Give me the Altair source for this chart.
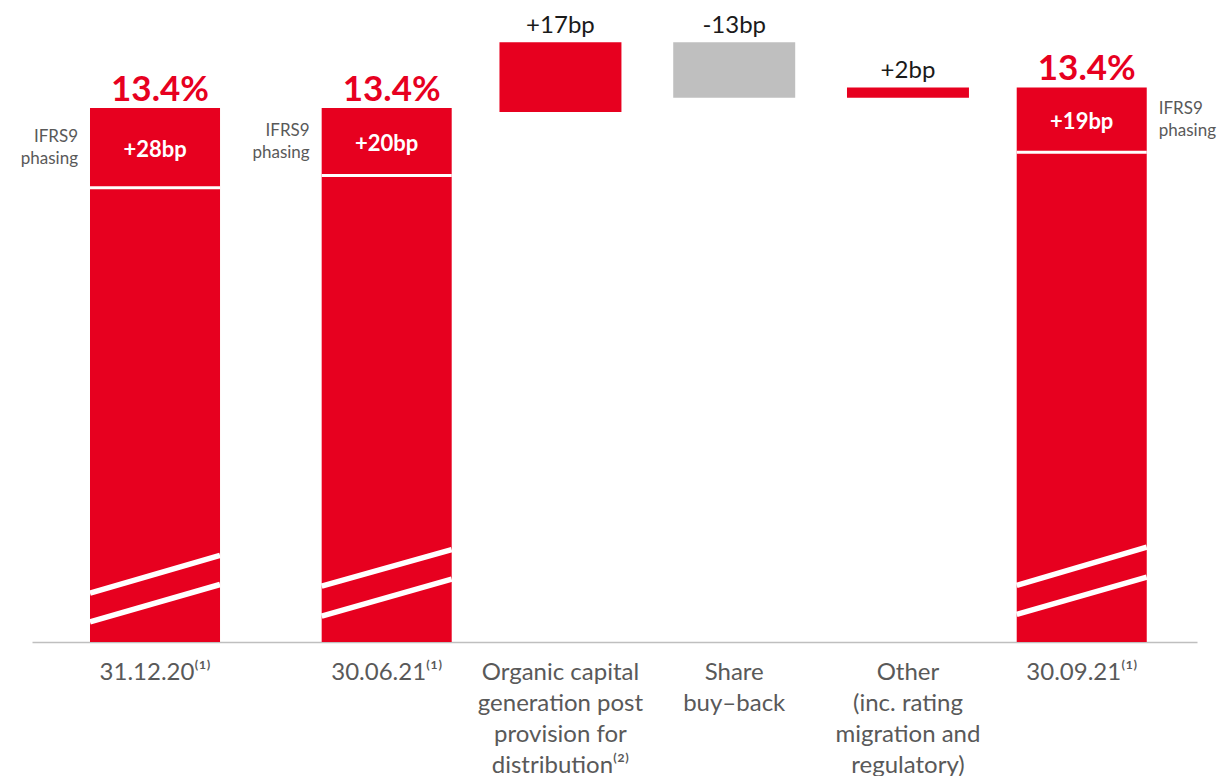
import altair as alt
import pandas as pd

RED = "#E7001F"
GREY_BAR = "#BFBFBF"
TXT = "#1A1A1A"
LBL = "#595959"
FONT = "Lato"

# ---- data (CET1 ratio in %, axis is broken) ----
categories = [
    "31.12.20⁽¹⁾",
    "30.06.21⁽¹⁾",
    "Organic capital|generation post|provision for|distribution⁽²⁾",
    "Share|buy–back",
    "Other|(inc. rating|migration and|regulatory)",
    "30.09.21⁽¹⁾",
]
axis_floor = 12.1      # value at the (broken) baseline
axis_top = 13.624

total_cats = [categories[0], categories[1], categories[5]]
total_values = [13.40, 13.40, 13.45]
total_labels = ["13.4%", "13.4%", "13.4%"]
ifrs9_labels = ["+28bp", "+20bp", "+19bp"]
ifrs9_split = [13.206, 13.236, 13.292]

delta_cats = [categories[2], categories[3], categories[4]]
delta_start = [13.39, 13.56, 13.425]
delta_end = [13.56, 13.425, 13.45]
delta_labels = ["+17bp", "-13bp", "+2bp"]

stripe_cats = [categories[0], categories[0], categories[1], categories[1], categories[5], categories[5]]
stripe_left = [12.219, 12.149, 12.236, 12.163, 12.238, 12.167]
stripe_right = [12.311, 12.240, 12.325, 12.253, 12.331, 12.258]

# ---- layout: uneven spacing between columns, in band steps ----
PLOT_W, PLOT_H = 1165, 626
slot_gaps = [4, 3, 3, 3, 3]
blank_names = iter(" " * k for k in range(1, 40))
domain = [next(blank_names), categories[0]]
for gap, cat in zip(slot_gaps, categories[1:]):
    for _ in range(gap - 1):
        domain.append(next(blank_names))
    domain.append(cat)
domain.append(next(blank_names))
PAD_OUTER = 0.557
STEP = PLOT_W / (len(domain) + 2 * PAD_OUTER)

TOTAL_W = 2.245   # bar width in band steps
DELTA_W = 2.106
OFF = (TOTAL_W - 1) / 2 * STEP

# ---- tables ----
totals = pd.DataFrame({
    "cat": total_cats, "top": total_values, "label": total_labels,
    "ifrs": ifrs9_labels, "split": ifrs9_split,
})
totals["base"] = axis_floor
totals["mid"] = (totals["top"] + totals["split"]) / 2

deltas = pd.DataFrame({"cat": delta_cats, "start": delta_start, "end": delta_end, "label": delta_labels})
deltas["hi"] = deltas[["start", "end"]].max(axis=1)
deltas["up"] = deltas["end"] > deltas["start"]

stripes = pd.DataFrame({"cat": stripe_cats, "l": stripe_left, "r": stripe_right})

# ---- scales ----
xscale = alt.Scale(domain=domain, paddingInner=0, paddingOuter=PAD_OUTER, align=0.56, round=False)
xaxis = alt.Axis(
    title=None, labelExpr="split(datum.label, '|')", labelAngle=0,
    labelFont=FONT, labelFontSize=24, labelColor=LBL, labelLineHeight=31,
    labelPadding=18, labelBaseline="top", labelLimit=400, labelOverlap=False,
    ticks=False, domainColor="#BFBFBF", domainWidth=1.5, grid=False,
)


def X(bp=None):
    if bp is None:
        return alt.X("cat:N", scale=xscale, axis=xaxis)
    return alt.X("cat:N", scale=xscale, axis=xaxis, bandPosition=bp)


yscale = alt.Scale(domain=[axis_floor, axis_top], nice=False, zero=False)


def Y(f):
    return alt.Y(f, scale=yscale, axis=None)


total_bars = alt.Chart(totals).mark_bar(color=RED, width=alt.RelativeBandSize(TOTAL_W)).encode(
    x=X(), y=Y("top:Q"), y2="base:Q")

separators = alt.Chart(totals).mark_rule(
    color="white", strokeWidth=3, xOffset=-OFF, x2Offset=OFF
).encode(x=X(0), x2=alt.X2("cat", bandPosition=1), y=Y("split:Q"))

breaks = alt.Chart(stripes).mark_rule(
    color="white", strokeWidth=5.5, xOffset=-OFF, x2Offset=OFF
).encode(x=X(0), x2=alt.X2("cat", bandPosition=1), y=Y("l:Q"), y2="r:Q")

total_text = alt.Chart(totals).mark_text(
    font=FONT, fontWeight="bold", fontSize=35, color=RED, baseline="alphabetic", dy=-7, dx=5
).encode(x=X(), y=Y("top:Q"), text="label:N")

ifrs_text = alt.Chart(totals).mark_text(
    font=FONT, fontWeight="bold", fontSize=22, color="white", baseline="middle", dy=2
).encode(x=X(), y=Y("mid:Q"), text="ifrs:N")

phasing_left = alt.Chart(totals).transform_filter(
    alt.FieldOneOfPredicate(field="cat", oneOf=[categories[0], categories[1]])
).mark_text(
    font=FONT, fontSize=17, color=LBL, align="right", baseline="middle", lineHeight=22,
    dx=-12 - OFF, dy=-11
).encode(x=X(0), y=Y("mid:Q"), text=alt.value(["IFRS9", "phasing"]))

phasing_right = alt.Chart(totals).transform_filter(
    alt.FieldEqualPredicate(field="cat", equal=categories[5])
).mark_text(
    font=FONT, fontSize=17, color=LBL, align="left", baseline="middle", lineHeight=22,
    dx=12 + OFF, dy=-11
).encode(x=X(1), y=Y("mid:Q"), text=alt.value(["IFRS9", "phasing"]))

delta_bars = alt.Chart(deltas).mark_bar(width=alt.RelativeBandSize(DELTA_W)).encode(
    x=X(), y=Y("start:Q"), y2="end:Q",
    color=alt.condition("datum.up", alt.value(RED), alt.value(GREY_BAR)),
)

delta_text = alt.Chart(deltas).mark_text(
    font=FONT, fontSize=24, color=TXT, baseline="alphabetic", dy=-9
).encode(x=X(), y=Y("hi:Q"), text="label:N")

chart = alt.layer(
    total_bars, separators, breaks, delta_bars, total_text, ifrs_text,
    phasing_left, phasing_right, delta_text,
).properties(
    width=PLOT_W, height=PLOT_H,
    autosize=alt.AutoSizeParams(type="none"),
    padding={"left": 24, "top": 8, "right": 25, "bottom": 134},
    background="white",
).configure_view(stroke=None)

chart.save("out.html", embed_options={"renderer": "svg", "actions": False})
